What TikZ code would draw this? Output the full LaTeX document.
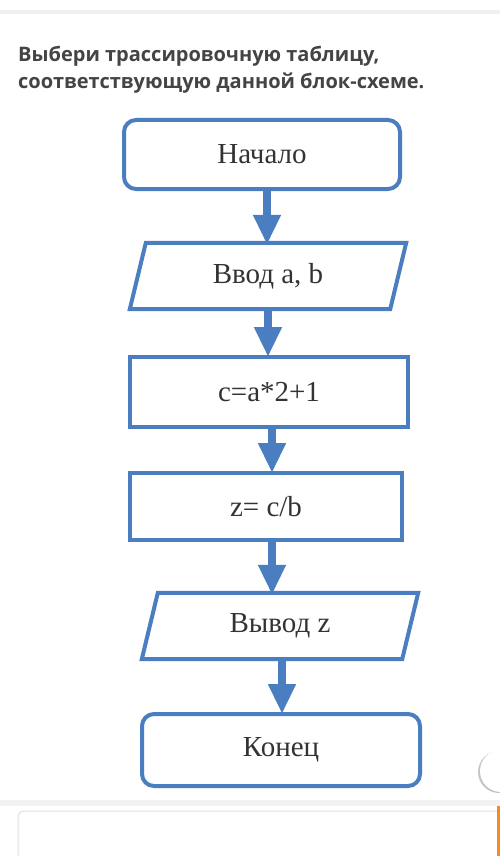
\documentclass[tikz,border=0pt]{standalone}
\usepackage{fontspec}
\setmainfont{Liberation Serif}
\newfontfamily\titlefont{Open Sans}
\usetikzlibrary{arrows.meta,shadows}
\definecolor{fcblue}{HTML}{4A7EC0}
\definecolor{titlegray}{HTML}{444444}
\definecolor{txt}{HTML}{333333}
\tikzset{
  term/.style={draw=fcblue,line width=4pt,rounded corners=12pt,fill=white,font=\fontsize{29}{32}\selectfont,text=txt},
  proc/.style={draw=fcblue,line width=4pt,fill=white,font=\fontsize{29}{32}\selectfont,text=txt},
  iobox/.style={draw=none,font=\fontsize{29}{32}\selectfont,text=txt},
  ioline/.style={draw=fcblue,line width=4pt,line join=miter},
  flow/.style={draw=fcblue,line width=8pt,-{Triangle[width=26pt,length=30pt]},shorten >=-2pt},
  ttl/.style={anchor=base west,inner sep=0pt,font=\titlefont\bfseries\fontsize{20}{27}\selectfont,text=titlegray},
}
\begin{document}
\begin{tikzpicture}[x=1pt,y=-1pt]
\useasboundingbox (0,0) rectangle (500,856);
\fill[white] (0,0) rectangle (500,856);
% top separator
\fill[black!6] (0,10) rectangle (500,14);
% title
\node[ttl] (t1) at (18,62) {Выбери трассировочную таблицу,};
\node[ttl] (t2) at (18,89) {соответствующую данной блок-схеме.};
% nodes
\node[term,minimum width=276pt,minimum height=69pt] (start) at (262,154.5) {Начало};
\node[iobox,minimum width=260pt,minimum height=66pt] (inp) at (268,276) {Ввод a, b};
\draw[ioline] ([xshift=8pt]inp.north west) -- ([xshift=8pt]inp.north east) -- ([xshift=-8pt]inp.south east) -- ([xshift=-8pt]inp.south west) -- cycle;
\node[proc,minimum width=278pt,minimum height=70pt] (calc) at (269,392) {c=a*2+1};
\node[proc,minimum width=272pt,minimum height=67pt] (div) at (266,506.5) {z= c/b};
\node[iobox,minimum width=260pt,minimum height=66pt] (out) at (280,626) {Вывод z};
\draw[ioline] ([xshift=8pt]out.north west) -- ([xshift=8pt]out.north east) -- ([xshift=-8pt]out.south east) -- ([xshift=-8pt]out.south west) -- cycle;
\node[term,minimum width=278pt,minimum height=72pt] (stop) at (281,750) {Конец};
% connectors
\draw[flow] ([xshift=5pt]start.south) -- ([xshift=-1pt]inp.north);
\draw[flow] (inp.south) -- ([xshift=-1pt]calc.north);
\draw[flow] ([xshift=3pt]calc.south) -- ([xshift=6pt]div.north);
\draw[flow] ([xshift=6pt]div.south) -- ([xshift=-8pt]out.north);
\draw[flow] ([xshift=2pt]out.south) -- ([xshift=1pt]stop.north);
% bottom area
\fill[black!5] (0,800) rectangle (500,806);
\draw[black!12,line width=1pt,rounded corners=6pt] (18,856) -- (18,811) -- (510,811);
\fill[white,drop shadow={opacity=0.45,shadow xshift=-2pt,shadow yshift=-1pt}] (501,771) circle (21pt);
\fill[orange!80!brown!90] (497,806) rectangle (500,856);
\end{tikzpicture}
\end{document}
